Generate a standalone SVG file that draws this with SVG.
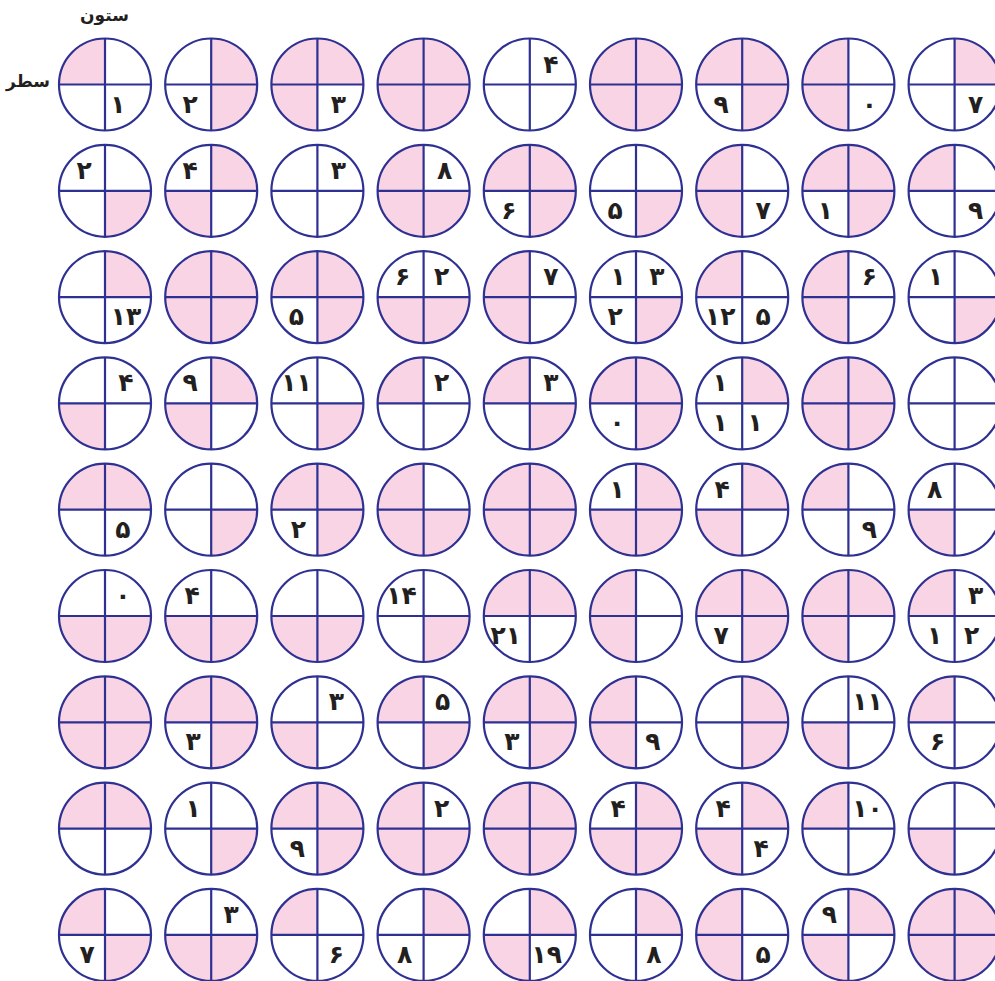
<svg xmlns="http://www.w3.org/2000/svg" xmlns:xlink="http://www.w3.org/1999/xlink" width="995" height="981" viewBox="0 0 995 981">
<style>
.p{fill:#f9d4e4}
.f{fill:none;stroke:#2e3192;stroke-width:2.2}
text{font-family:"DejaVu Sans",sans-serif;font-weight:bold;font-size:25px;text-anchor:middle;fill:#231f20}
.lb{font-size:17px}
</style>
<defs>
<path id="tl" class="p" d="M0,0V-46A46,46 0 0 0 -46,0Z"/>
<path id="tr" class="p" d="M0,0V-46A46,46 0 0 1 46,0Z"/>
<path id="bl" class="p" d="M0,0H-46A46,46 0 0 0 0,46Z"/>
<path id="br" class="p" d="M0,0H46A46,46 0 0 1 0,46Z"/>
<g id="f" class="f"><circle r="46"/><path d="M0,-46V46M-46,0H46"/></g>
</defs>
<g id="labels">
<text class="lb" x="104.5" y="21">ستون</text>
<text class="lb" x="28" y="87">سطر</text>
</g>
<g id="connectors"/>
<!-- Row 1 -->
<g id="n1-1" transform="translate(105,84.5)"><use href="#tl"/><use href="#f"/><text x="13" y="28">۱</text></g>
<g id="n1-2" transform="translate(211.2,84.5)"><use href="#tr"/><use href="#br"/><use href="#f"/><text x="-21" y="28">۲</text></g>
<g id="n1-3" transform="translate(317.4,84.5)"><use href="#tl"/><use href="#tr"/><use href="#bl"/><use href="#f"/><text x="21" y="28">۳</text></g>
<g id="n1-4" transform="translate(423.6,84.5)"><use href="#tl"/><use href="#tr"/><use href="#bl"/><use href="#br"/><use href="#f"/></g>
<g id="n1-5" transform="translate(529.8,84.5)"><use href="#f"/><text x="21" y="-12">۴</text></g>
<g id="n1-6" transform="translate(636,84.5)"><use href="#tl"/><use href="#tr"/><use href="#bl"/><use href="#br"/><use href="#f"/></g>
<g id="n1-7" transform="translate(742.2,84.5)"><use href="#tl"/><use href="#tr"/><use href="#br"/><use href="#f"/><text x="-21" y="28">۹</text></g>
<g id="n1-8" transform="translate(848.4,84.5)"><use href="#tl"/><use href="#bl"/><use href="#f"/><text x="21" y="28">۰</text></g>
<g id="n1-9" transform="translate(954.6,84.5)"><use href="#tr"/><use href="#f"/><text x="21" y="28">۷</text></g>
<!-- Row 2 -->
<g id="n2-1" transform="translate(105,190.8)"><use href="#br"/><use href="#f"/><text x="-21" y="-12">۲</text></g>
<g id="n2-2" transform="translate(211.2,190.8)"><use href="#tr"/><use href="#bl"/><use href="#f"/><text x="-21" y="-12">۴</text></g>
<g id="n2-3" transform="translate(317.4,190.8)"><use href="#f"/><text x="21" y="-12">۳</text></g>
<g id="n2-4" transform="translate(423.6,190.8)"><use href="#tl"/><use href="#bl"/><use href="#br"/><use href="#f"/><text x="21" y="-12">۸</text></g>
<g id="n2-5" transform="translate(529.8,190.8)"><use href="#tl"/><use href="#tr"/><use href="#br"/><use href="#f"/><text x="-21" y="28">۶</text></g>
<g id="n2-6" transform="translate(636,190.8)"><use href="#br"/><use href="#f"/><text x="-21" y="28">۵</text></g>
<g id="n2-7" transform="translate(742.2,190.8)"><use href="#tl"/><use href="#bl"/><use href="#f"/><text x="21" y="28">۷</text></g>
<g id="n2-8" transform="translate(848.4,190.8)"><use href="#tl"/><use href="#tr"/><use href="#br"/><use href="#f"/><text x="-23" y="28">۱</text></g>
<g id="n2-9" transform="translate(954.6,190.8)"><use href="#tl"/><use href="#f"/><text x="21" y="28">۹</text></g>
<!-- Row 3 -->
<g id="n3-1" transform="translate(105,297.1)"><use href="#tr"/><use href="#f"/><text x="21" y="28">۱۳</text></g>
<g id="n3-2" transform="translate(211.2,297.1)"><use href="#tl"/><use href="#tr"/><use href="#bl"/><use href="#br"/><use href="#f"/></g>
<g id="n3-3" transform="translate(317.4,297.1)"><use href="#tl"/><use href="#tr"/><use href="#br"/><use href="#f"/><text x="-21" y="28">۵</text></g>
<g id="n3-4" transform="translate(423.6,297.1)"><use href="#bl"/><use href="#br"/><use href="#f"/><text x="-21" y="-12">۶</text><text x="18" y="-12">۲</text></g>
<g id="n3-5" transform="translate(529.8,297.1)"><use href="#tl"/><use href="#bl"/><use href="#f"/><text x="21" y="-12">۷</text></g>
<g id="n3-6" transform="translate(636,297.1)"><use href="#br"/><use href="#f"/><text x="-18" y="-12">۱</text><text x="21" y="-12">۳</text><text x="-21" y="28">۲</text></g>
<g id="n3-7" transform="translate(742.2,297.1)"><use href="#tl"/><use href="#f"/><text x="-22" y="28">۱۲</text><text x="21" y="28">۵</text></g>
<g id="n3-8" transform="translate(848.4,297.1)"><use href="#tl"/><use href="#bl"/><use href="#f"/><text x="21" y="-12">۶</text></g>
<g id="n3-9" transform="translate(954.6,297.1)"><use href="#br"/><use href="#f"/><text x="-19" y="-12">۱</text></g>
<!-- Row 4 -->
<g id="n4-1" transform="translate(105,403.4)"><use href="#bl"/><use href="#f"/><text x="21" y="-12">۴</text></g>
<g id="n4-2" transform="translate(211.2,403.4)"><use href="#tr"/><use href="#bl"/><use href="#f"/><text x="-21" y="-12">۹</text></g>
<g id="n4-3" transform="translate(317.4,403.4)"><use href="#br"/><use href="#f"/><text x="-21" y="-12">۱۱</text></g>
<g id="n4-4" transform="translate(423.6,403.4)"><use href="#tl"/><use href="#f"/><text x="18" y="-12">۲</text></g>
<g id="n4-5" transform="translate(529.8,403.4)"><use href="#tl"/><use href="#br"/><use href="#f"/><text x="21" y="-12">۳</text></g>
<g id="n4-6" transform="translate(636,403.4)"><use href="#tl"/><use href="#tr"/><use href="#br"/><use href="#f"/><text x="-19" y="28">۰</text></g>
<g id="n4-7" transform="translate(742.2,403.4)"><use href="#tr"/><use href="#f"/><text x="-22" y="-12">۱</text><text x="-22" y="28">۱</text><text x="13" y="28">۱</text></g>
<g id="n4-8" transform="translate(848.4,403.4)"><use href="#tl"/><use href="#tr"/><use href="#bl"/><use href="#br"/><use href="#f"/></g>
<g id="n4-9" transform="translate(954.6,403.4)"><use href="#f"/></g>
<!-- Row 5 -->
<g id="n5-1" transform="translate(105,509.7)"><use href="#tl"/><use href="#tr"/><use href="#f"/><text x="18" y="28">۵</text></g>
<g id="n5-2" transform="translate(211.2,509.7)"><use href="#br"/><use href="#f"/></g>
<g id="n5-3" transform="translate(317.4,509.7)"><use href="#tl"/><use href="#tr"/><use href="#br"/><use href="#f"/><text x="-19" y="28">۲</text></g>
<g id="n5-4" transform="translate(423.6,509.7)"><use href="#tl"/><use href="#bl"/><use href="#br"/><use href="#f"/></g>
<g id="n5-5" transform="translate(529.8,509.7)"><use href="#tl"/><use href="#tr"/><use href="#bl"/><use href="#br"/><use href="#f"/></g>
<g id="n5-6" transform="translate(636,509.7)"><use href="#tr"/><use href="#bl"/><use href="#br"/><use href="#f"/><text x="-19" y="-12">۱</text></g>
<g id="n5-7" transform="translate(742.2,509.7)"><use href="#tr"/><use href="#bl"/><use href="#f"/><text x="-20" y="-12">۴</text></g>
<g id="n5-8" transform="translate(848.4,509.7)"><use href="#tl"/><use href="#f"/><text x="21" y="28">۹</text></g>
<g id="n5-9" transform="translate(954.6,509.7)"><use href="#bl"/><use href="#f"/><text x="-20" y="-12">۸</text></g>
<!-- Row 6 -->
<g id="n6-1" transform="translate(105,616)"><use href="#bl"/><use href="#br"/><use href="#f"/><text x="18" y="-12">۰</text></g>
<g id="n6-2" transform="translate(211.2,616)"><use href="#bl"/><use href="#br"/><use href="#f"/><text x="-19" y="-12">۴</text></g>
<g id="n6-3" transform="translate(317.4,616)"><use href="#bl"/><use href="#br"/><use href="#f"/></g>
<g id="n6-4" transform="translate(423.6,616)"><use href="#br"/><use href="#f"/><text x="-22" y="-12">۱۴</text></g>
<g id="n6-5" transform="translate(529.8,616)"><use href="#tl"/><use href="#tr"/><use href="#f"/><text x="-24" y="28">۲۱</text></g>
<g id="n6-6" transform="translate(636,616)"><use href="#tl"/><use href="#bl"/><use href="#f"/></g>
<g id="n6-7" transform="translate(742.2,616)"><use href="#tl"/><use href="#tr"/><use href="#br"/><use href="#f"/><text x="-21" y="28">۷</text></g>
<g id="n6-8" transform="translate(848.4,616)"><use href="#tl"/><use href="#tr"/><use href="#bl"/><use href="#f"/></g>
<g id="n6-9" transform="translate(954.6,616)"><use href="#tl"/><use href="#f"/><text x="21" y="-12">۳</text><text x="-20" y="28">۱</text><text x="17" y="28">۲</text></g>
<!-- Row 7 -->
<g id="n7-1" transform="translate(105,722.3)"><use href="#tl"/><use href="#tr"/><use href="#bl"/><use href="#br"/><use href="#f"/></g>
<g id="n7-2" transform="translate(211.2,722.3)"><use href="#tl"/><use href="#tr"/><use href="#br"/><use href="#f"/><text x="-18" y="28">۳</text></g>
<g id="n7-3" transform="translate(317.4,722.3)"><use href="#bl"/><use href="#f"/><text x="19" y="-12">۳</text></g>
<g id="n7-4" transform="translate(423.6,722.3)"><use href="#tl"/><use href="#br"/><use href="#f"/><text x="19" y="-12">۵</text></g>
<g id="n7-5" transform="translate(529.8,722.3)"><use href="#tl"/><use href="#tr"/><use href="#br"/><use href="#f"/><text x="-18" y="28">۳</text></g>
<g id="n7-6" transform="translate(636,722.3)"><use href="#tl"/><use href="#bl"/><use href="#f"/><text x="17" y="28">۹</text></g>
<g id="n7-7" transform="translate(742.2,722.3)"><use href="#tr"/><use href="#br"/><use href="#f"/></g>
<g id="n7-8" transform="translate(848.4,722.3)"><use href="#bl"/><use href="#f"/><text x="19" y="-12">۱۱</text></g>
<g id="n7-9" transform="translate(954.6,722.3)"><use href="#tl"/><use href="#f"/><text x="-17" y="28">۶</text></g>
<!-- Row 8 -->
<g id="n8-1" transform="translate(105,828.6)"><use href="#tl"/><use href="#tr"/><use href="#f"/></g>
<g id="n8-2" transform="translate(211.2,828.6)"><use href="#br"/><use href="#f"/><text x="-18" y="-12">۱</text></g>
<g id="n8-3" transform="translate(317.4,828.6)"><use href="#tl"/><use href="#tr"/><use href="#br"/><use href="#f"/><text x="-20" y="28">۹</text></g>
<g id="n8-4" transform="translate(423.6,828.6)"><use href="#tl"/><use href="#bl"/><use href="#br"/><use href="#f"/><text x="18" y="-12">۲</text></g>
<g id="n8-5" transform="translate(529.8,828.6)"><use href="#tl"/><use href="#tr"/><use href="#bl"/><use href="#br"/><use href="#f"/></g>
<g id="n8-6" transform="translate(636,828.6)"><use href="#tr"/><use href="#bl"/><use href="#br"/><use href="#f"/><text x="-18" y="-12">۴</text></g>
<g id="n8-7" transform="translate(742.2,828.6)"><use href="#tr"/><use href="#bl"/><use href="#f"/><text x="-19" y="-12">۴</text><text x="19" y="28">۴</text></g>
<g id="n8-8" transform="translate(848.4,828.6)"><use href="#tl"/><use href="#f"/><text x="19" y="-12">۱۰</text></g>
<g id="n8-9" transform="translate(954.6,828.6)"><use href="#bl"/><use href="#f"/></g>
<!-- Row 9 -->
<g id="n9-1" transform="translate(105,934.9)"><use href="#tl"/><use href="#br"/><use href="#f"/><text x="-18" y="28">۷</text></g>
<g id="n9-2" transform="translate(211.2,934.9)"><use href="#bl"/><use href="#br"/><use href="#f"/><text x="20" y="-12">۳</text></g>
<g id="n9-3" transform="translate(317.4,934.9)"><use href="#tl"/><use href="#f"/><text x="19" y="28">۶</text></g>
<g id="n9-4" transform="translate(423.6,934.9)"><use href="#tr"/><use href="#f"/><text x="-19" y="28">۸</text></g>
<g id="n9-5" transform="translate(529.8,934.9)"><use href="#tr"/><use href="#bl"/><use href="#f"/><text x="17" y="28">۱۹</text></g>
<g id="n9-6" transform="translate(636,934.9)"><use href="#tr"/><use href="#f"/><text x="18" y="28">۸</text></g>
<g id="n9-7" transform="translate(742.2,934.9)"><use href="#tl"/><use href="#bl"/><use href="#f"/><text x="21" y="28">۵</text></g>
<g id="n9-8" transform="translate(848.4,934.9)"><use href="#tr"/><use href="#bl"/><use href="#f"/><text x="-19" y="-12">۹</text></g>
<g id="n9-9" transform="translate(954.6,934.9)"><use href="#tl"/><use href="#tr"/><use href="#bl"/><use href="#br"/><use href="#f"/></g>
</svg>
